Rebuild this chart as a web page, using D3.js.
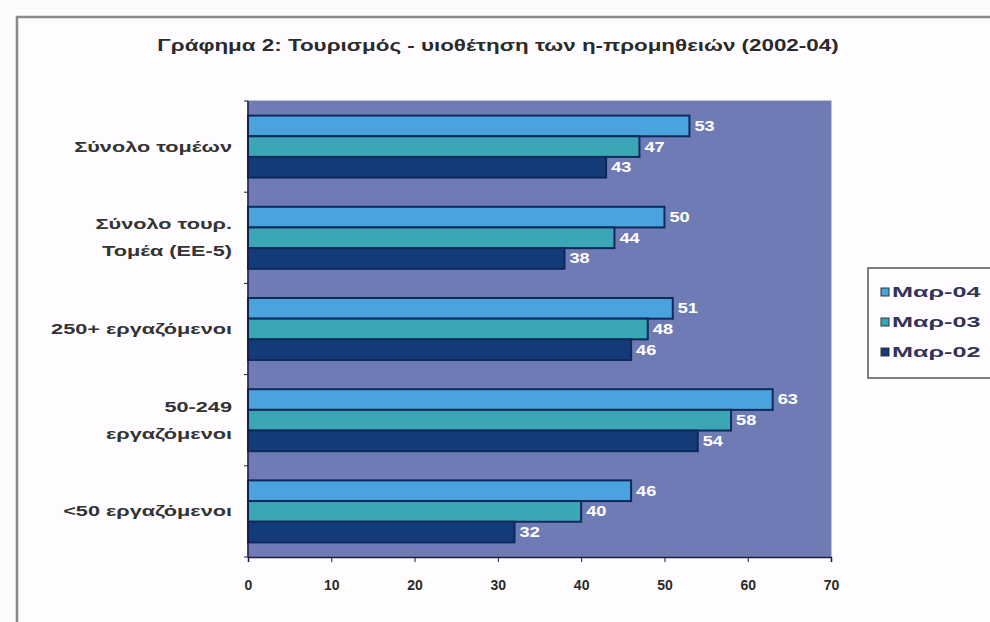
<!DOCTYPE html>
<html>
<head>
<meta charset="utf-8">
<script src="https://cdn.jsdelivr.net/npm/d3@7"></script>
<style>
  body { margin: 0; background: #fdfbfd; }
  svg { display: block; font-family: "Liberation Sans", Arial, sans-serif; }
</style>
</head>
<body>
<div id="vis"></div>
<script>
// data
const categories = [
  ["Σύνολο τομέων"],
  ["Σύνολο τουρ.", "Τομέα (ΕΕ-5)"],
  ["250+ εργαζόμενοι"],
  ["50-249", "εργαζόμενοι"],
  ["<50 εργαζόμενοι"]
]
const seriesNames = ["Μαρ-04", "Μαρ-03", "Μαρ-02"]
const mar04 = [53, 50, 51, 63, 46]
const mar03 = [47, 44, 48, 58, 40]
const mar02 = [43, 38, 46, 54, 32]
const xTicks = [0, 10, 20, 30, 40, 50, 60, 70]

const width = 990
const height = 622
const colors = ["#4ba3dd", "#3ba6b6", "#133a79"]
const allSeries = [mar04, mar03, mar02]

// the scanned original has its lettering stretched sideways
function place(x, y, sx) {
  return "translate(" + x + "," + y + ") scale(" + sx + ",1)"
}

const svg = d3.select("#vis")
  .append("svg")
  .attr("width", width)
  .attr("height", height)

// outer frame of the chart (runs off the page right / bottom)
svg.append("rect")
  .attr("x", 17).attr("y", 17)
  .attr("width", 1000).attr("height", 700)
  .attr("fill", "#fefcfe")
  .attr("stroke", "#8a8a8a")
  .attr("stroke-width", 2.5)

// title
svg.append("text")
  .attr("transform", place(498, 51, 1.4))
  .attr("text-anchor", "middle")
  .style("font-size", "16px")
  .style("font-weight", "bold")
  .attr("fill", "#2a2a2a")
  .text("Γράφημα 2: Τουρισμός - υιοθέτηση των η-προμηθειών (2002-04)")

// plot area
const plotL = 248, plotR = 831, plotT = 101, plotB = 557

const x = d3.scaleLinear().domain([0, 70]).range([plotL, plotR])
const y = d3.scaleBand()
  .domain(d3.range(categories.length))
  .range([plotT, plotB])
  .paddingInner(0.32)
  .paddingOuter(0.16)
const ySub = d3.scaleBand()
  .domain(d3.range(seriesNames.length))
  .range([0, y.bandwidth()])

svg.append("rect")
  .attr("x", plotL).attr("y", plotT)
  .attr("width", plotR - plotL).attr("height", plotB - plotT)
  .attr("fill", "#6f7bb5")
  .attr("stroke", "#7d86b0")

// bars
const groups = svg.selectAll("g.grp")
  .data(categories)
  .enter()
  .append("g")
    .attr("class", "grp")
    .attr("transform", (d, i) => "translate(0," + y(i) + ")")

groups.selectAll("rect")
  .data((d, i) => allSeries.map((s, j) => ({ v: s[i], j: j })))
  .enter()
  .append("rect")
    .attr("x", x(0))
    .attr("y", d => ySub(d.j))
    .attr("width", d => x(d.v) - x(0))
    .attr("height", ySub.bandwidth())
    .attr("fill", d => colors[d.j])
    .attr("stroke", "#0e2a5c")
    .attr("stroke-width", 2)

// value labels
groups.selectAll("text.val")
  .data((d, i) => allSeries.map((s, j) => ({ v: s[i], j: j })))
  .enter()
  .append("text")
    .attr("class", "val")
    .attr("transform", d => place(x(d.v) + 5, ySub(d.j) + ySub.bandwidth() / 2, 1.3))
    .attr("dy", "0.35em")
    .style("font-size", "14px")
    .style("font-weight", "bold")
    .attr("fill", "#ffffff")
    .text(d => d.v)

// category axis
svg.append("line")
  .attr("x1", plotL).attr("x2", plotL)
  .attr("y1", plotT).attr("y2", plotB)
  .attr("stroke", "#1a1a40").attr("stroke-width", 1.5)
svg.selectAll("line.ytick")
  .data(d3.range(categories.length + 1))
  .enter()
  .append("line")
    .attr("class", "ytick")
    .attr("x1", plotL - 4).attr("x2", plotL)
    .attr("y1", i => plotT + i * (plotB - plotT) / categories.length)
    .attr("y2", i => plotT + i * (plotB - plotT) / categories.length)
    .attr("stroke", "#1a1a40")

const lineGap = 27
const catLabels = svg.selectAll("text.cat")
  .data(categories)
  .enter()
  .append("text")
    .attr("class", "cat")
    .attr("text-anchor", "end")
    .attr("transform", (d, i) => place(232, y(i) + y.bandwidth() / 2 - (d.length - 1) * lineGap / 2, 1.55))
    .style("font-size", "14px")
    .style("font-weight", "bold")
    .attr("fill", "#333333")
catLabels.selectAll("tspan")
  .data(d => d)
  .enter()
  .append("tspan")
    .attr("x", 0)
    .attr("y", (d, k) => k * lineGap)
    .attr("dy", "0.35em")
    .text(d => d)

// value axis
svg.append("g")
  .attr("transform", "translate(0," + plotB + ")")
  .call(d3.axisBottom(x).tickValues(xTicks).tickSize(5).tickPadding(18))
  .call(g => g.select(".domain").attr("stroke", "#1a1a40").attr("stroke-width", 1.5))
  .call(g => g.selectAll(".tick line").attr("stroke", "#1a1a40"))
  .call(g => g.selectAll(".tick text")
    .style("font-size", "14px")
    .style("font-weight", "bold")
    .style("font-family", "'Liberation Sans', Arial, sans-serif")
    .attr("fill", "#2a2a2a"))

// legend
const legend = svg.append("g").attr("transform", "translate(868,268)")
legend.append("rect")
  .attr("width", 130).attr("height", 110)
  .attr("fill", "#fefcfe")
  .attr("stroke", "#555555")
  .attr("stroke-width", 1.5)
const items = legend.selectAll("g.item")
  .data(seriesNames)
  .enter()
  .append("g")
    .attr("class", "item")
    .attr("transform", (d, i) => "translate(13," + (24 + i * 30) + ")")
items.append("rect")
  .attr("x", 0).attr("y", -4)
  .attr("width", 8).attr("height", 8)
  .attr("fill", (d, i) => colors[i])
  .attr("stroke", "#333")
items.append("text")
  .attr("transform", place(11, 0, 1.8))
  .attr("dy", "0.35em")
  .style("font-size", "14px")
  .style("font-weight", "bold")
  .attr("fill", "#333355")
  .text(d => d)
</script>
</body>
</html>
